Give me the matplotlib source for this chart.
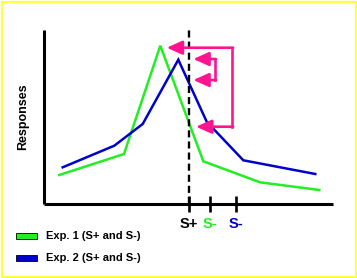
import matplotlib
matplotlib.use("Agg")
import matplotlib.pyplot as plt
from matplotlib.patches import Rectangle

# ---- data (stimulus dimension, response strength) ----
green_x = [15.3, 80, 116.3, 159.3, 216, 275.3]
green_y = [29, 50, 158.3, 42.7, 21.7, 14]
blue_x = [18.7, 70.3, 98.7, 134.3, 162.7, 199.3, 271.3]
blue_y = [36.7, 58.3, 80, 144.3, 82.3, 43.7, 30]
tick_pos = [145, 166, 192]
tick_labels = ["S+", "S-", "S-"]
legend_labels = ["Exp. 1 (S+ and S-)", "Exp. 2 (S+ and S-)"]
# arrow brackets: (bracket x, upper level, upper tip, lower level, lower tip)
big_bracket = [188.3, 156.3, 122.7, 77.3, 152.0]
small_bracket = [171.0, 145.0, 149.3, 124.0, 149.3]

GREEN = "#22ee22"
BLUE = "#0000cc"
PINK = "#ff1490"
YELLOW = "#ffff40"
tick_colors = ["black", GREEN, BLUE]

plt.rcParams["font.family"] = ["Liberation Sans", "DejaVu Sans"]
plt.rcParams["font.weight"] = "bold"

W, H = 357, 278
fig = plt.figure(figsize=(W / 100, H / 100), dpi=100)
fig.patch.set_facecolor("white")

ax = fig.add_axes([44 / W, 1 - 204 / H, (333 - 44) / W, (204 - 30) / H])
ax.set_xlim(0, 289)
ax.set_ylim(0, 174)
for s in ["top", "right"]:
    ax.spines[s].set_visible(False)
for s in ["left", "bottom"]:
    ax.spines[s].set_linewidth(2.2)
    ax.spines[s].set_capstyle("butt")
ax.set_yticks([])
ax.set_xticks(tick_pos)
ax.set_xticklabels(tick_labels, fontsize=10.5, fontweight="bold")
for lab, c in zip(ax.get_xticklabels(), tick_colors):
    lab.set_color(c)
ax.tick_params(axis="x", direction="inout", length=12, width=1.9, pad=3)

ax.plot(green_x, green_y, color=GREEN, lw=1.8, solid_joinstyle="miter", clip_on=False)
ax.plot(blue_x, blue_y, color=BLUE, lw=1.8, solid_joinstyle="miter", clip_on=False)

ax.axvline(tick_pos[0], ymin=0, ymax=1, color="black", lw=1.7,
           linestyle=(0, (3.0, 1.7)), clip_on=False)

ax.set_ylabel("Responses", fontsize=9, fontweight="bold", labelpad=11)

def bracket(b):
    bx, y1, t1, y2, t2 = b
    ax.plot([bx, bx], [y1, y2], color=PINK, lw=1.9, solid_capstyle="projecting")
    for y, t in [(y1, t1), (y2, t2)]:
        ax.annotate("", xy=(t, y), xytext=(bx + 0.8, y),
                    arrowprops=dict(arrowstyle="-|>,head_length=0.85,head_width=0.38",
                                    color=PINK, lw=1.9, shrinkA=0, shrinkB=0,
                                    mutation_scale=11))

bracket(big_bracket)
bracket(small_bracket)

# legend
for i, (lab, c) in enumerate(zip(legend_labels, [GREEN, BLUE])):
    yc = 236 + 22 * i
    fig.add_artist(Rectangle((16 / W, 1 - (yc + 3.3) / H), 21 / W, 6.6 / H,
                             facecolor=c, edgecolor="black", lw=0.6,
                             transform=fig.transFigure))
    fig.text(45.5 / W, 1 - yc / H, lab, fontsize=8, fontweight="bold",
             va="center", ha="left")

# border
fig.add_artist(Rectangle((1.5 / W, 1.5 / H), (W - 3) / W, (H - 3) / H,
                         facecolor="none", edgecolor=YELLOW, lw=1.6,
                         transform=fig.transFigure))

fig.savefig("out.png", dpi=100)
